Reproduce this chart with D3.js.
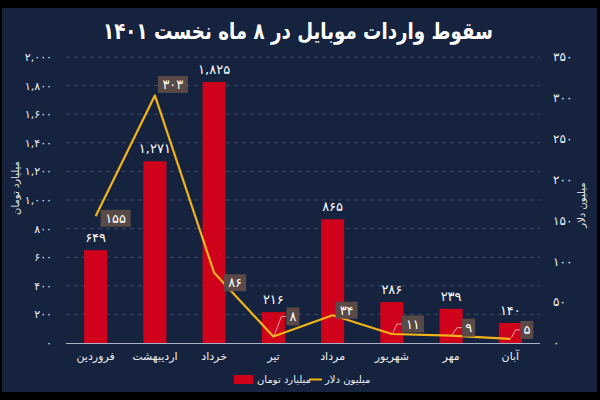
<!DOCTYPE html>
<html><head><meta charset="utf-8">
<script src="https://cdn.jsdelivr.net/npm/d3@7"></script>
<style>
html,body{margin:0;padding:0;background:#000;}
svg{display:block;font-family:"DejaVu Sans",sans-serif;}
</style></head>
<body>
<svg id="c" width="600" height="400"></svg>
<script>
const title = "سقوط واردات موبایل در ۸ ماه نخست ۱۴۰۱";
const categories = ["فروردین","اردیبهشت","خرداد","تیر","مرداد","شهریور","مهر","آبان"];
const tomanValues = [649, 1271, 1825, 216, 865, 286, 239, 140];
const dollarValues = [155, 303, 86, 8, 34, 11, 9, 5];
const leftTicks = [0,200,400,600,800,1000,1200,1400,1600,1800,2000];
const rightTicks = [0,50,100,150,200,250,300,350];
const seriesNames = ["میلیارد تومان","میلیون دلار"];
// label nudges (layout only): [dx, dy] from line point to box left / center
const labelNudge = [[5,2],[3,-11],[10,10],[13,-20],[3,-5],[10,-10],[11,-8],[10,-9]];

const faDigits = s => String(s).replace(/[0-9]/g, d => "۰۱۲۳۴۵۶۷۸۹"[+d]);
const fmt = d3.format(",");

const svg = d3.select("#c");
const W = 600, H = 400;
const bg = "#15233f", red = "#d0021b", yellow = "#f2b417", boxCol = "#5a4a47", txt = "#eef0f4";

svg.append("rect").attr("width",W).attr("height",H).attr("fill","#000");
svg.append("rect").attr("x",2).attr("y",8).attr("width",595).attr("height",384).attr("fill",bg);

const x = d3.scaleBand().domain(categories).range([66,540]).paddingInner(0.61).paddingOuter(0.305);
const yL = d3.scaleLinear().domain([0,2000]).range([343,57]);
const yR = d3.scaleLinear().domain([0,350]).range([343,57]);

// title
svg.append("text").attr("x",298).attr("y",39).attr("text-anchor","middle")
  .attr("fill","#fff").attr("font-size",23).attr("font-weight","bold")
  .attr("textLength",390).attr("lengthAdjust","spacingAndGlyphs").text(title);

// gridlines
svg.append("g").selectAll("line").data(leftTicks.filter(d=>d>0)).join("line")
  .attr("x1",66).attr("x2",540).attr("y1",d=>yL(d)).attr("y2",d=>yL(d))
  .attr("stroke","#3f4b68").attr("stroke-width",1).attr("stroke-dasharray","4,4");

// left axis
const axL = svg.append("g").attr("transform","translate(56,0)")
  .call(d3.axisLeft(yL).tickValues(leftTicks).tickSize(0).tickPadding(4).tickFormat(d=>faDigits(fmt(d))));
axL.select(".domain").remove();
axL.selectAll("text").attr("fill",txt).attr("font-size",11).attr("font-family","DejaVu Sans");

// right axis
const axR = svg.append("g").attr("transform","translate(549,0)")
  .call(d3.axisRight(yR).tickValues(rightTicks).tickSize(0).tickPadding(4).tickFormat(d=>faDigits(fmt(d))));
axR.select(".domain").remove();
axR.selectAll("text").attr("fill",txt).attr("font-size",12).attr("font-family","DejaVu Sans");

// axis titles
svg.append("text").attr("transform","translate(19,188) rotate(-90)").attr("text-anchor","middle")
  .attr("fill",txt).attr("font-size",10).text(seriesNames[0]);
svg.append("text").attr("transform","translate(585,205) rotate(-90)").attr("text-anchor","middle")
  .attr("fill",txt).attr("font-size",10).text(seriesNames[1]);

// bars
svg.append("g").selectAll("rect").data(tomanValues).join("rect")
  .attr("x",(d,i)=>x(categories[i])).attr("width",x.bandwidth())
  .attr("y",d=>yL(d)).attr("height",d=>yL(0)-yL(d)).attr("fill",red);

// bar labels
svg.append("g").selectAll("text").data(tomanValues).join("text")
  .attr("x",(d,i)=>x(categories[i])+x.bandwidth()/2).attr("y",d=>yL(d)-8)
  .attr("text-anchor","middle").attr("fill","#fff").attr("font-size",13).text(d=>faDigits(fmt(d)));

// baseline
svg.append("line").attr("x1",66).attr("x2",540).attr("y1",yL(0)+0.5).attr("y2",yL(0)+0.5)
  .attr("stroke","#aab3c5").attr("stroke-width",1.2);

// category labels
const axB = svg.append("g").attr("transform",`translate(0,${yL(0)})`)
  .call(d3.axisBottom(x).tickSize(0).tickPadding(9));
axB.select(".domain").remove();
axB.selectAll("text").attr("fill",txt).attr("font-size",11).attr("font-family","DejaVu Sans");

// line
const cx = i => x(categories[i]) + x.bandwidth()/2;
const line = d3.line().x((d,i)=>cx(i)).y(d=>yR(d));
svg.append("path").datum(dollarValues).attr("d",line).attr("fill","none")
  .attr("stroke",yellow).attr("stroke-width",2.2).attr("stroke-linejoin","round");

// line labels
const lab = svg.append("g");
dollarValues.forEach((v,i)=>{
  const px = cx(i), py = yR(v);
  const [dx,dy] = labelNudge[i];
  const t = faDigits(v);
  const w = t.length>1 ? 6+ t.length*8 : 13;
  const h = t.length>1 ? 17 : 18;
  const bx = px+dx, by = py+dy-h/2;
  if (v < 20) {
    lab.append("polyline").attr("points",`${px+1},${py-1} ${bx-5},${by+h/2} ${bx},${by+h/2}`)
      .attr("fill","none").attr("stroke","#e9c9cc").attr("stroke-width",0.8);
  }
  lab.append("rect").attr("x",bx).attr("y",by).attr("width",w).attr("height",h).attr("fill",boxCol);
  lab.append("text").attr("x",bx+w/2).attr("y",by+h/2+4.5).attr("text-anchor","middle")
    .attr("fill","#fff").attr("font-size",13).text(t);
});

// legend
const lg = svg.append("g");
lg.append("rect").attr("x",234).attr("y",375).attr("width",19).attr("height",9).attr("fill",red);
lg.append("text").attr("x",257).attr("y",383).attr("fill",txt).attr("font-size",10).text(seriesNames[0]);
lg.append("line").attr("x1",309).attr("x2",322).attr("y1",379.5).attr("y2",379.5).attr("stroke",yellow).attr("stroke-width",2);
lg.append("text").attr("x",325).attr("y",383).attr("fill",txt).attr("font-size",10).text(seriesNames[1]);
</script>
</body></html>
